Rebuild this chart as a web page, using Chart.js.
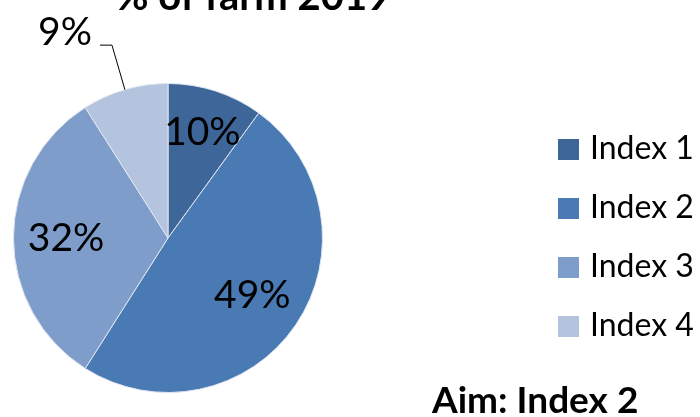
<!DOCTYPE html>
<html>
<head>
<meta charset="utf-8">
<script src="https://cdn.jsdelivr.net/npm/chart.js@4/dist/chart.umd.min.js"></script>
<style>
  html, body { margin: 0; padding: 0; background: #fff; }
  #wrap { width: 700px; height: 417px; }
</style>
</head>
<body>
<div id="wrap"><canvas id="myChart" width="700" height="417"></canvas></div>
<script>
var labels = ["Index 1", "Index 2", "Index 3", "Index 4"];
var values = [10, 49, 32, 9];
var colors = ["#3e6699", "#4a7ab4", "#7e9dca", "#b4c4de"];
var chartTitle = "% of farm 2019";
var aimText = "Aim: Index 2";

var FONT = "Lato, 'DejaVu Sans', sans-serif";

// draws title, slice labels, legend and the aim note
var extras = {
    id: 'extras',
    afterDraw: function (chart) {
        var c = chart.ctx;
        var meta = chart.getDatasetMeta(0);
        var total = values.reduce(function (a, b) { return a + b; }, 0);
        c.save();
        c.fillStyle = '#000';

        // title, cut off at the top like the original
        c.font = "bold 40px " + FONT;
        c.textAlign = 'center';
        c.textBaseline = 'alphabetic';
        c.fillText(chartTitle, 253, 10);

        // percentage labels
        c.font = "39px " + FONT;
        meta.data.forEach(function (arc, i) {
            var pct = Math.round(values[i] / total * 100) + '%';
            var mid = (arc.startAngle + arc.endAngle) / 2;
            var r = arc.outerRadius;
            if (values[i] < 10) {
                // outside label with leader line
                var ex = arc.x + Math.cos(mid) * r, ey = arc.y + Math.sin(mid) * r;
                var kx = arc.x + Math.cos(mid) * r * 1.3, ky = arc.y + Math.sin(mid) * r * 1.3;
                c.strokeStyle = '#000';
                c.lineWidth = 1;
                c.beginPath();
                c.moveTo(ex, ey);
                c.lineTo(kx, ky);
                c.lineTo(kx - 12, ky);
                c.stroke();
                c.textAlign = 'right';
                c.textBaseline = 'alphabetic';
                c.fillText(pct, kx - 20, ky);
            } else {
                c.textAlign = 'center';
                c.textBaseline = 'middle';
                var f = values[i] < 20 ? 0.72 : 0.66;
                c.fillText(pct, arc.x + Math.cos(mid) * r * f, arc.y + Math.sin(mid) * r * f);
            }
        });

        // legend
        c.font = "32px " + FONT;
        c.textAlign = 'left';
        c.textBaseline = 'middle';
        labels.forEach(function (lab, i) {
            var y = 149 + i * 59;
            c.fillStyle = colors[i];
            c.fillRect(558, y - 10, 21, 21);
            c.fillStyle = '#000';
            c.fillText(lab, 590, y);
        });

        // aim note
        c.font = "bold 37px " + FONT;
        c.textBaseline = 'alphabetic';
        c.fillText(aimText, 432, 413);
        c.restore();
    }
};

var ctx = document.getElementById("myChart");
var myChart = new Chart(ctx, {
    type: 'pie',
    data: {
        labels: labels,
        datasets: [{
            data: values,
            backgroundColor: colors,
            borderColor: '#dfe6ef',
            borderWidth: 1
        }]
    },
    options: {
        responsive: false,
        animation: false,
        layout: { padding: { left: 13, top: 83, right: 377, bottom: 24 } },
        plugins: {
            legend: { display: false },
            tooltip: { enabled: false },
            title: { display: false }
        }
    },
    plugins: [extras]
});
</script>
</body>
</html>
